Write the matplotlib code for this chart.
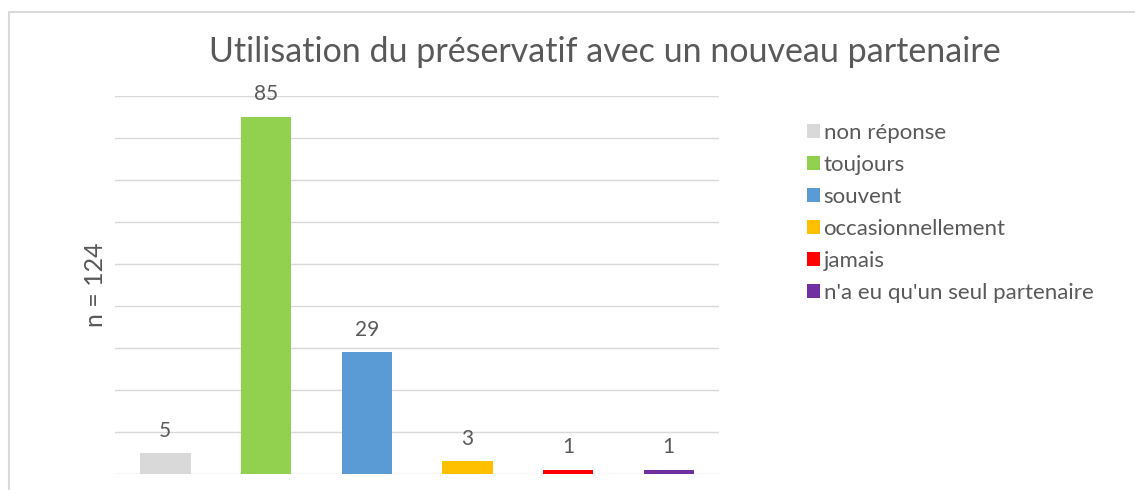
import matplotlib.pyplot as plt
from matplotlib.patches import Patch, Rectangle

categories = ["non réponse", "toujours", "souvent", "occasionnellement",
              "jamais", "n'a eu qu'un seul partenaire"]
values = [5, 85, 29, 3, 1, 1]
colors = ["#D9D9D9", "#92D050", "#5B9BD5", "#FFC000", "#FF0000", "#7030A0"]

TXT = "#595959"
plt.rcParams["font.family"] = ["Lato", "DejaVu Sans"]

fig = plt.figure(figsize=(11.35, 4.9), dpi=100)
# chart border
fig.patches.append(Rectangle((9 / 1135, -0.1), 1.2, 1 - 12 / 490 + 0.1,
                             transform=fig.transFigure, fill=False,
                             edgecolor="#D9D9D9", lw=1.5))

ax = fig.add_axes([115 / 1135, 1 - 474 / 490, 604 / 1135, 378 / 490])
x = list(range(len(categories)))
bars = ax.bar(x, values, width=0.5, color=colors, zorder=3)
for b, v in zip(bars, values):
    ax.annotate(str(v), (b.get_x() + b.get_width() / 2, b.get_height()),
                xytext=(0, 9), textcoords="offset points",
                ha="center", va="bottom", fontsize=15, color=TXT)

ax.set_xlim(-0.5, len(categories) - 0.5)
ax.set_ylim(0, 90)
ax.set_yticks(range(0, 91, 10))
ax.yaxis.grid(True, color="#D9D9D9", lw=1, zorder=0)
ax.tick_params(left=False, bottom=False, labelleft=False, labelbottom=False)
for s in ax.spines.values():
    s.set_visible(False)
ax.set_ylabel("n = 124", fontsize=18, color=TXT, labelpad=6)

fig.text(605 / 1135, 1 - 52 / 490, "Utilisation du préservatif avec un nouveau partenaire",
         ha="center", va="center", fontsize=24.5, color=TXT)

handles = [Patch(facecolor=c, edgecolor="none") for c in colors]
fig.legend(handles, categories, loc="upper left",
           bbox_to_anchor=(798 / 1135, 1 - 114 / 490), frameon=False,
           fontsize=16, labelcolor=TXT, handlelength=0.6, handleheight=0.6,
           handletextpad=0.15, labelspacing=0.54, borderaxespad=0)

fig.savefig("out.png", dpi=100)
